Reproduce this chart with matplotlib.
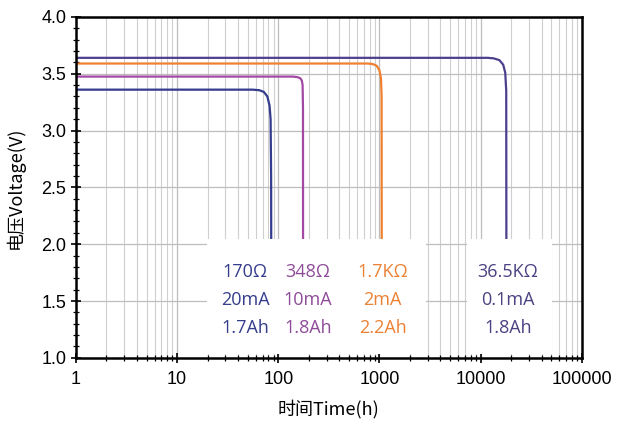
import matplotlib.pyplot as plt
from matplotlib.patches import Rectangle
from matplotlib.ticker import FixedLocator, LogLocator, NullFormatter, MultipleLocator

plt.rcParams['font.family'] = ['Liberation Sans', 'Noto Sans CJK SC', 'DejaVu Sans']

# discharge curves (time in h, voltage in V)
t_170 = [1, 40, 56, 65, 72, 78, 82, 84, 85, 85.5]
v_170 = [3.36, 3.36, 3.36, 3.355, 3.34, 3.3, 3.22, 3.1, 2.6, 1.1]
t_348 = [1, 100, 140, 155, 165, 171, 174, 175.5, 176]
v_348 = [3.475, 3.475, 3.475, 3.47, 3.46, 3.44, 3.4, 3.2, 1.1]
t_1k7 = [1, 600, 770, 860, 940, 1000, 1035, 1050, 1055]
v_1k7 = [3.59, 3.59, 3.59, 3.585, 3.57, 3.53, 3.46, 3.3, 1.1]
t_36k = [1, 9000, 11800, 13500, 15300, 16700, 17500, 17900, 18000]
v_36k = [3.64, 3.64, 3.64, 3.635, 3.62, 3.58, 3.51, 3.35, 1.1]

series = [
    (t_170, v_170, '#343c8e'),
    (t_348, v_348, '#a149a5'),
    (t_1k7, v_1k7, '#f0802e'),
    (t_36k, v_36k, '#4d3f8e'),
]

col1 = ['170Ω', '20mA', '1.7Ah']
col2 = ['348Ω', '10mA', '1.8Ah']
col3 = ['1.7KΩ', '2mA', '2.2Ah']
col4 = ['36.5KΩ', '0.1mA', '1.8Ah']
text_cols = [
    (col1, 47, '#363d8c'),
    (col2, 196, '#8e4c98'),
    (col3, 1075, '#ec8134'),
    (col4, 18600, '#4a4282'),
]
row_y = [1.757, 1.51, 1.265]

fig = plt.figure(figsize=(6.17, 4.23), dpi=100)
ax = fig.add_axes([0.123, 0.154, 0.820, 0.806])

for t, v, c in series:
    ax.plot(t, v, color=c, lw=1.6, zorder=3, solid_joinstyle='round')

ax.set_xscale('log')
ax.set_xlim(1, 100000)
ax.set_ylim(1.0, 4.0)
ax.xaxis.set_major_locator(FixedLocator([1, 10, 100, 1000, 10000, 100000]))
ax.set_xticklabels(['1', '10', '100', '1000', '10000', '100000'])
ax.xaxis.set_minor_locator(LogLocator(base=10, subs=range(2, 10)))
ax.xaxis.set_minor_formatter(NullFormatter())
ax.yaxis.set_major_locator(MultipleLocator(0.5))
ax.yaxis.set_minor_locator(MultipleLocator(0.1))

ax.grid(which='major', color='#bdbdbd', lw=0.9, zorder=0)
ax.grid(which='minor', axis='x', color='#cfcfcf', lw=0.8, zorder=0)

for s in ax.spines.values():
    s.set_linewidth(1.8)
    s.set_zorder(6)
ax.tick_params(axis='both', which='major', labelsize=13, direction='inout', length=7, width=1.2)
ax.tick_params(axis='both', which='minor', direction='inout', length=4, width=0.9)
ax.tick_params(axis='x', pad=6)
for lab in ax.get_xticklabels() + ax.get_yticklabels():
    lab.set_family(['Liberation Sans', 'DejaVu Sans'])

# white boxes behind the annotations
ax.add_patch(Rectangle((0.259, 0.012), 0.433, 0.338, transform=ax.transAxes,
                       facecolor='white', edgecolor='none', zorder=4))
ax.add_patch(Rectangle((0.773, 0.012), 0.168, 0.338, transform=ax.transAxes,
                       facecolor='white', edgecolor='none', zorder=4))

for labels, xpos, c in text_cols:
    for lab, yy in zip(labels, row_y):
        ax.text(xpos, yy, lab, color=c, fontsize=13, ha='center', va='center',
                family=['Open Sans', 'DejaVu Sans'], zorder=5)

ax.set_xlabel('时间Time(h)', fontsize=13, family=['Noto Sans CJK SC', 'DejaVu Sans'], labelpad=8)
ax.set_ylabel('电压Voltage(V)', fontsize=13, family=['Noto Sans CJK SC', 'DejaVu Sans'], labelpad=12)

fig.savefig('out.png', dpi=100)
